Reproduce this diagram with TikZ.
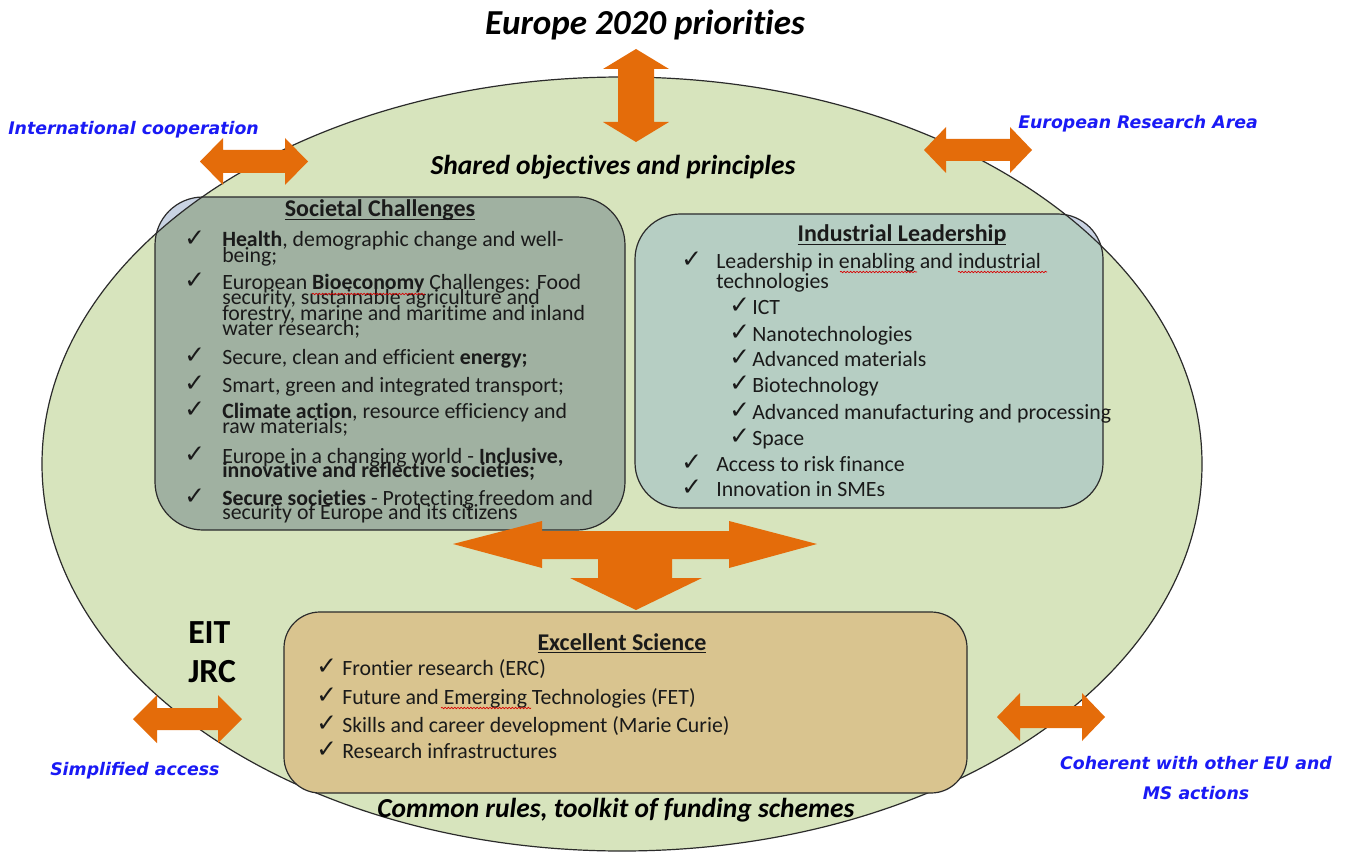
\documentclass[tikz,border=0pt]{standalone}
\usepackage{fontspec}
\setmainfont{Carlito}[Ligatures=NoCommon]
\newfontfamily\bluefont{DejaVu Sans}
\newfontfamily\symfont{DejaVu Sans}
\usetikzlibrary{decorations.pathmorphing}
\definecolor{ellgreen}{HTML}{D7E4BD}
\definecolor{socfill}{HTML}{A0B1A1}
\definecolor{indfill}{HTML}{B6CEC3}
\definecolor{excfill}{HTML}{D9C48F}
\definecolor{lensfill}{HTML}{C9D3E3}
\definecolor{arroworange}{HTML}{E46C0A}
\definecolor{labelblue}{HTML}{1A1AF5}
\definecolor{outline}{HTML}{2B2B2B}
\definecolor{textdark}{HTML}{1A1A1A}
\newcommand\lns[2]{\vtop{\baselineskip=#1\lineskiplimit=-100pt\lineskip=0pt\halign{##\hfil\cr#2\crcr}}}
\newcommand\chk{\raisebox{0.6pt}{\symfont\bfseries\fontsize{18.5}{18.5}\selectfont ✓}}
\newcommand\itm[3]{\makebox[#1][l]{\chk}\lns{#2}{#3}}
\newcommand\hul[1]{\setbox0\hbox{#1}\rlap{\rule[-2.4pt]{\wd0}{1pt}}\box0}
% horizontal double block arrow: left x, right x, centre y, head half, shaft half, head length
\newcommand\hdarrow[6]{\fill[blockarrow] (#1,#3) -- ({#1+#6},{#3-#4}) -- ({#1+#6},{#3-#5}) -- ({#2-#6},{#3-#5}) -- ({#2-#6},{#3-#4}) -- (#2,#3) -- ({#2-#6},{#3+#4}) -- ({#2-#6},{#3+#5}) -- ({#1+#6},{#3+#5}) -- ({#1+#6},{#3+#4}) -- cycle;}
% vertical double block arrow: centre x, top y, bottom y, head half, shaft half, head length
\newcommand\vdarrow[6]{\fill[blockarrow] (#1,#2) -- ({#1+#4},{#2+#6}) -- ({#1+#5},{#2+#6}) -- ({#1+#5},{#3-#6}) -- ({#1+#4},{#3-#6}) -- (#1,#3) -- ({#1-#4},{#3-#6}) -- ({#1-#5},{#3-#6}) -- ({#1-#5},{#2+#6}) -- ({#1-#4},{#2+#6}) -- cycle;}
\begin{document}
\begin{tikzpicture}[x=0.75pt,y=-0.75pt,
  boxtext/.style={anchor=base west, inner sep=0pt, font={\fontsize{16.35}{19}\selectfont}, text=textdark},
  headtext/.style={anchor=base, inner sep=0pt, font={\fontsize{18}{21}\selectfont\bfseries}, text=textdark},
  bigtitle/.style={anchor=base, inner sep=0pt, font={\fontsize{26.3}{30}\selectfont\bfseries\itshape}},
  subtitle/.style={anchor=base, inner sep=0pt, font={\fontsize{20.6}{24}\selectfont\bfseries\itshape}},
  bluelabel/.style={inner sep=0pt, text=labelblue, font={\bluefont\bfseries\itshape\fontsize{13}{15}\selectfont}},
  acronym/.style={anchor=base west, inner sep=0pt, font={\fontsize{25.3}{28}\selectfont\bfseries}},
  blockarrow/.style={fill=arroworange},
  outl/.style={draw=outline, line width=0.9pt},
  squiggle/.style={draw=red!85!black, line width=0.5pt, decorate, decoration={snake, amplitude=0.55pt, segment length=2.4pt}}
]
\fill[white] (0,0) rectangle (1348,852);
\useasboundingbox (0,0) rectangle (1348,852);

% big ellipse
\fill[ellgreen] (622,464) ellipse [x radius=580, y radius=387];

% Societal Challenges and Industrial Leadership boxes (light lens where they leave the ellipse)
\fill[lensfill, rounded corners=36pt] (155,197) rectangle (625,530);
\fill[lensfill, rounded corners=34pt] (635,214) rectangle (1103,508);
\begin{scope}
  \clip (622,464) ellipse [x radius=580, y radius=387];
  \fill[socfill, rounded corners=36pt] (155,197) rectangle (625,530);
  \fill[indfill, rounded corners=34pt] (635,214) rectangle (1103,508);
\end{scope}
\draw[outl, rounded corners=36pt] (155,197) rectangle (625,530);
\draw[outl, rounded corners=34pt] (635,214) rectangle (1103,508);
\draw[outl] (622,464) ellipse [x radius=580, y radius=387];

% Excellent Science box
\draw[outl, fill=excfill, rounded corners=27pt] (284,612) rectangle (967,793);

% titles
\node[bigtitle] (title) at (645,35) {Europe 2020 priorities};
\node[subtitle] (shared) at (613,175) {Shared objectives and principles};
\node[subtitle] (common) at (616,817) {Common rules, toolkit of funding schemes};

% blue labels
\node[bluelabel, anchor=base west] (intl) at (8,135) {International cooperation};
\node[bluelabel, anchor=base west] (era) at (1018,129) {European Research Area};
\node[bluelabel, anchor=base west] (simpl) at (50,775) {Simplified access};
\node[bluelabel, anchor=base] (coh1) at (1196,769) {Coherent with other EU and};
\node[bluelabel, anchor=base] (coh2) at (1196,799) {MS actions};

% EIT JRC
\node[acronym] (eit) at (188,643) {EIT};
\node[acronym] (jrc) at (188,682) {JRC};

% Societal Challenges text
\node[headtext] (sochead) at (380,217) {\hul{Societal Challenges}};
\node[boxtext] (s1) at (184,247) {\itm{28.5pt}{11.5pt}{\textbf{Health}, demographic change and well-\cr being;}};
\node[boxtext] (s2) at (184,289) {\itm{28.5pt}{11.7pt}{European \textbf{Bioeconomy} Challenges: Food\cr security, sustainable agriculture and\cr forestry, marine and maritime and inland\cr water research;}};
\node[boxtext] (s3) at (184,364) {\itm{28.5pt}{11.5pt}{Secure, clean and efficient \textbf{energy;}}};
\node[boxtext] (s4) at (184,392) {\itm{28.5pt}{11.5pt}{Smart, green and integrated transport;}};
\node[boxtext] (s5) at (184,418) {\itm{28.5pt}{11.5pt}{\textbf{Climate action}, resource efficiency and\cr raw materials;}};
\node[boxtext] (s6) at (184,463) {\itm{28.5pt}{10.9pt}{Europe in a changing world - \textbf{Inclusive,}\cr \textbf{innovative and reflective societies;}}};
\node[boxtext] (s7) at (184,505) {\itm{28.5pt}{10.5pt}{\textbf{Secure societies} - Protecting freedom and\cr security of Europe and its citizens}};

% Industrial Leadership text
\node[headtext] (indhead) at (902,242) {\hul{Industrial Leadership}};
\node[boxtext] (i1) at (681,268) {\itm{26.25pt}{15pt}{Leadership in enabling and industrial\cr technologies}};
\node[boxtext] (i2) at (729,314) {\itm{17.25pt}{15pt}{ICT}};
\node[boxtext] (i3) at (729,341) {\itm{17.25pt}{15pt}{Nanotechnologies}};
\node[boxtext] (i4) at (729,366) {\itm{17.25pt}{15pt}{Advanced materials}};
\node[boxtext] (i5) at (729,392) {\itm{17.25pt}{15pt}{Biotechnology}};
\node[boxtext] (i6) at (729,419) {\itm{17.25pt}{15pt}{Advanced manufacturing and processing}};
\node[boxtext] (i7) at (729,445) {\itm{17.25pt}{15pt}{Space}};
\node[boxtext] (i8) at (681,471) {\itm{26.25pt}{15pt}{Access to risk finance}};
\node[boxtext] (i9) at (681,496) {\itm{26.25pt}{15pt}{Innovation in SMEs}};

% Excellent Science text
\node[headtext] (exchead) at (622,650) {\hul{Excellent Science}};
\node[boxtext] (e1) at (316,675) {\itm{19.5pt}{15pt}{Frontier research (ERC)}};
\node[boxtext] (e2) at (316,704) {\itm{19.5pt}{15pt}{Future and Emerging Technologies (FET)}};
\node[boxtext] (e3) at (316,732) {\itm{19.5pt}{15pt}{Skills and career development (Marie Curie)}};
\node[boxtext] (e4) at (316,758) {\itm{19.5pt}{15pt}{Research infrastructures}};

% spell-check squiggles
\draw[squiggle] (312,294) -- (425,294);
\draw[squiggle] (840,272) -- (917,272);
\draw[squiggle] (958,272) -- (1047,272);
\draw[squiggle] (441,708) -- (531,708);

% block arrows
\vdarrow{636}{49}{142}{33}{18}{20}
\hdarrow{200}{308}{161.5}{23.5}{11.5}{23}
\hdarrow{924}{1032}{150}{23}{11}{22}
\hdarrow{133}{242}{719}{24}{11}{24}
\hdarrow{997}{1105}{717}{24}{11}{23}

% central three-way arrow
\fill[blockarrow] (453,544) -- (542,521) -- (542,531) -- (729,531) -- (729,521) -- (817,544)
  -- (729,568) -- (729,559) -- (672,559) -- (672,578) -- (702,578) -- (636,610)
  -- (570,578) -- (598,578) -- (598,559) -- (542,559) -- (542,568) -- cycle;
\end{tikzpicture}
\end{document}
